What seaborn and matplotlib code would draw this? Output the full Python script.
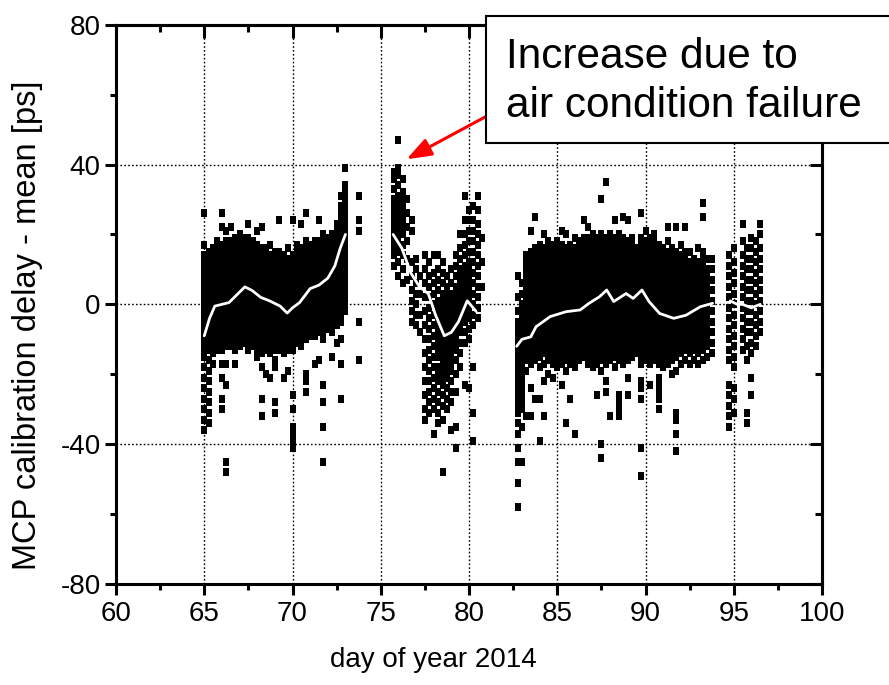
import matplotlib
matplotlib.use("Agg")
import matplotlib.pyplot as plt
import seaborn as sns
import pandas as pd
from matplotlib.patches import Rectangle

# ---------------- data ----------------
seg1_days = [65.0, 65.25, 65.5, 65.75, 66.0, 66.25, 66.5, 66.75, 67.0, 67.25, 67.5, 67.75,
             68.0, 68.25, 68.5, 68.75, 69.0, 69.25, 69.5, 69.75, 70.0, 70.25, 70.5, 70.75,
             71.0, 71.25, 71.5, 71.75, 72.0, 72.25, 72.5, 72.75, 73.0, 73.75]
seg1_vals = [
    [-36, -33, -30, -27, -24, -21, -18, -15, -13, -11, -9, -7, -6, -4, -2, 0, 2, 3, 5, 7, 9, 11, 12, 14, 17, 26],
    [-34, -31, -28, -25, -22, -19, -16, -13, -12, -10, -8, -6, -5, -3, -1, 1, 2, 4, 6, 8, 10, 11, 13, 15],
    [-17, -14, -12, -11, -9, -7, -5, -4, -2, 0, 1, 3, 5, 6, 8, 10, 12, 14, 16],
    [-13, -11, -10, -8, -6, -4, -3, -1, 1, 2, 4, 6, 7, 9, 11, 12, 14, 16, 18],
    [-30, -27, -21, -17, -13, -11, -9, -8, -6, -4, -3, -1, 1, 3, 4, 6, 8, 10, 11, 13, 15, 17, 22, 26],
    [-48, -45, -23, -17, -12, -10, -9, -7, -5, -4, -2, 0, 2, 3, 5, 7, 9, 10, 12, 14, 16, 18, 21],
    [-12, -10, -8, -7, -5, -3, -1, 0, 2, 4, 6, 7, 9, 11, 12, 14, 16, 18, 22],
    [-17, -13, -11, -9, -7, -6, -4, -2, -1, 1, 3, 5, 6, 8, 10, 12, 13, 15, 17, 19],
    [-12, -10, -9, -7, -5, -3, -2, 0, 2, 4, 5, 7, 9, 11, 12, 14, 16, 18, 20],
    [-11, -10, -8, -6, -4, -3, -1, 1, 3, 4, 6, 8, 10, 11, 13, 15, 17, 19],
    [-13, -11, -9, -7, -6, -4, -2, 0, 1, 3, 5, 7, 8, 10, 12, 14, 15, 17, 19, 23],
    [-12, -10, -8, -7, -5, -3, -1, 0, 2, 4, 6, 7, 9, 11, 13, 14, 16, 18],
    [-15, -13, -11, -10, -8, -6, -4, -3, -1, 1, 3, 4, 6, 8, 10, 11, 13, 15, 17, 21],
    [-32, -27, -18, -14, -12, -10, -9, -7, -5, -3, -2, 0, 2, 4, 5, 7, 9, 11, 12, 14, 16, 22],
    [-20, -13, -11, -9, -8, -6, -4, -2, -1, 1, 3, 5, 6, 8, 10, 12, 14, 16],
    [-21, -14, -12, -11, -9, -7, -5, -4, -2, 0, 2, 3, 5, 7, 9, 10, 12, 14, 17],
    [-31, -28, -18, -16, -13, -11, -10, -8, -6, -4, -3, -1, 1, 3, 4, 6, 8, 10, 11, 13, 15],
    [-13, -12, -10, -8, -7, -5, -3, -1, 0, 2, 4, 6, 7, 9, 11, 13, 15, 24],
    [-21, -14, -12, -11, -9, -7, -5, -4, -2, 0, 1, 3, 5, 7, 9, 10, 12, 14],
    [-19, -13, -12, -10, -8, -6, -5, -3, -1, 1, 2, 4, 6, 8, 9, 11, 13, 16],
    [-41, -39, -37, -35, -30, -26, -13, -11, -9, -8, -6, -4, -2, -1, 1, 3, 5, 6, 8, 10, 12, 14, 24],
    [-11, -10, -8, -6, -4, -3, -1, 1, 3, 4, 6, 8, 10, 11, 13, 15, 17],
    [-12, -10, -8, -7, -5, -3, -1, 0, 2, 4, 6, 7, 9, 11, 13, 14, 16, 23],
    [-25, -22, -20, -10, -9, -7, -5, -3, -2, 0, 2, 4, 5, 7, 9, 11, 12, 14, 16, 18, 26],
    [-9, -8, -6, -4, -2, -1, 1, 3, 5, 6, 8, 10, 12, 13, 15, 17],
    [-17, -9, -7, -5, -4, -2, 0, 2, 3, 5, 7, 9, 10, 12, 14, 16, 18],
    [-16, -8, -6, -5, -3, -1, 1, 2, 4, 6, 8, 9, 11, 13, 15, 16, 18, 24],
    [-45, -35, -28, -23, -10, -8, -7, -5, -3, -1, 0, 2, 4, 6, 7, 9, 11, 13, 14, 16, 18, 20],
    [-7, -6, -4, -2, 0, 1, 3, 5, 7, 8, 10, 12, 14, 15, 17, 19],
    [-15, -8, -6, -4, -3, -1, 1, 3, 4, 6, 8, 10, 11, 13, 15, 17, 18, 20],
    [-11, -6, -4, -2, 0, 1, 3, 5, 7, 8, 10, 12, 14, 15, 17, 19, 21, 23],
    [-27, -17, -10, -5, -3, -1, 1, 3, 5, 6, 8, 10, 12, 14, 16, 18, 20, 22, 24, 26, 28, 31],
    [-2, 0, 2, 4, 6, 8, 10, 12, 14, 16, 18, 20, 22, 24, 26, 28, 30, 32, 34, 39],
    [-16, -5, 21, 24, 31],
]

seg2_days = [75.75, 76.0, 76.25, 76.5, 76.75, 77.0, 77.25, 77.5, 77.75, 78.0, 78.25, 78.5,
             78.75, 79.0, 79.25, 79.5, 79.75, 80.0, 80.25, 80.5, 80.75]
seg2_vals = [
    [11, 14, 16, 18, 20, 22, 24, 26, 28, 30, 33, 36, 38],
    [8, 12, 15, 17, 19, 21, 23, 25, 27, 29, 31, 34, 37, 39, 47],
    [6, 10, 14, 17, 20, 22, 24, 26, 28, 30, 32, 36],
    [7, 13, 18, 22, 26, 30],
    [-5, -2, 1, 4, 8, 12, 21, 24],
    [-6, -3, 0, 3, 6, 10, 13],
    [-8, -3, 3, 8],
    [-33, -30, -26, -22, -18, -14, -10, -6, -2, 2, 6, 10, 14],
    [-31, -28, -25, -22, -19, -16, -13, -10, -7, -4, -1, 2, 5, 8, 12],
    [-37, -30, -27, -24, -21, -18, -15, -12, -9, -6, -3, 0, 3, 6, 9, 14],
    [-34, -31, -28, -25, -22, -20, -18, -15, -13, -11, -9, -7, -5, -3, -1, 1, 4, 7, 10, 14],
    [-48, -33, -29, -26, -23, -21, -19, -17, -15, -13, -11, -9, -7, -5, -3, -1, 1, 3, 6, 9, 12],
    [-30, -27, -24, -21, -19, -17, -15, -13, -11, -9, -7, -5, -3, -1, 1, 3, 5, 8],
    [-36, -28, -25, -22, -19, -17, -15, -13, -11, -9, -7, -5, -3, -1, 1, 3, 6, 10],
    [-41, -35, -25, -20, -16, -13, -11, -9, -7, -5, -3, -1, 1, 3, 5, 8, 11, 14],
    [-18, -14, -11, -8, -6, -4, -2, 0, 2, 4, 6, 8, 10, 13, 16, 20],
    [-23, -11, -8, -5, -3, -1, 1, 3, 5, 7, 9, 11, 14, 17, 20, 24, 31],
    [-24, -10, -7, -4, -2, 0, 2, 4, 6, 8, 10, 12, 15, 18, 21, 24, 27],
    [-39, -31, -18, -6, -3, 0, 3, 6, 9, 12, 15, 18, 21, 24, 28],
    [-4, -1, 2, 5, 8, 11, 14, 17, 20, 23, 27, 31],
    [5, 12, 19],
]

seg3_days = [82.75, 83.0, 83.25, 83.5, 83.75, 84.0, 84.25, 84.5, 84.75, 85.0, 85.25, 85.5,
             85.75, 86.0, 86.25, 86.5, 86.75, 87.0, 87.25, 87.5, 87.75, 88.0, 88.25, 88.5,
             88.75, 89.0, 89.25, 89.5]
seg3_vals = [
    [-58, -51, -45, -41, -37, -34, -31, -29, -27, -25, -23, -21, -19, -17, -15, -13, -11, -9, -7, -5, -2, 2, 8],
    [-45, -35, -30, -28, -26, -24, -22, -20, -18, -16, -14, -12, -10, -8, -6, -4, -2, 0, 3, 6],
    [-32, -19, -16, -14, -12, -10, -8, -6, -4, -2, 0, 2, 4, 6, 8, 10, 12, 14],
    [-32, -24, -17, -15, -13, -11, -9, -7, -5, -3, -1, 1, 3, 5, 7, 9, 11, 13, 15, 21],
    [-27, -16, -14, -12, -10, -8, -6, -4, -2, 0, 2, 4, 6, 8, 10, 12, 14, 16, 25],
    [-39, -27, -18, -15, -13, -11, -9, -7, -5, -3, -1, 1, 3, 5, 7, 9, 11, 13, 15, 17],
    [-32, -22, -17, -14, -12, -10, -8, -6, -4, -2, 0, 2, 4, 6, 8, 10, 12, 14, 16, 20],
    [-20, -16, -14, -12, -10, -8, -6, -4, -2, 0, 2, 4, 6, 8, 10, 12, 14, 16, 18],
    [-21, -17, -15, -13, -11, -9, -7, -5, -3, -1, 1, 3, 5, 7, 9, 11, 13, 15, 17],
    [-18, -16, -14, -12, -10, -8, -6, -4, -2, 0, 2, 4, 6, 8, 10, 12, 14, 16, 18],
    [-23, -17, -15, -13, -11, -9, -7, -5, -3, -1, 1, 3, 5, 7, 9, 11, 13, 15, 17, 21],
    [-34, -19, -16, -14, -12, -10, -8, -6, -4, -2, 0, 2, 4, 6, 8, 10, 12, 14, 16, 20],
    [-27, -17, -15, -13, -11, -9, -7, -5, -3, -1, 1, 3, 5, 7, 9, 11, 13, 15, 17],
    [-37, -18, -16, -14, -12, -10, -8, -6, -4, -2, 0, 2, 4, 6, 8, 10, 12, 14, 16, 19],
    [-16, -14, -12, -10, -8, -6, -4, -2, 0, 2, 4, 6, 8, 10, 12, 14, 16, 18],
    [-15, -13, -11, -9, -7, -5, -3, -1, 1, 3, 5, 7, 9, 11, 13, 15, 17, 19, 24],
    [-17, -15, -13, -11, -9, -7, -5, -3, -1, 1, 3, 5, 7, 9, 11, 13, 15, 17, 19, 22],
    [-18, -16, -14, -12, -10, -8, -6, -4, -2, 0, 2, 4, 6, 8, 10, 12, 14, 16, 18, 20],
    [-26, -17, -15, -13, -11, -9, -7, -5, -3, -1, 1, 3, 5, 7, 9, 11, 13, 15, 17, 19],
    [-44, -40, -19, -16, -14, -12, -10, -8, -6, -4, -2, 0, 2, 4, 6, 8, 10, 12, 14, 16, 18, 20, 30],
    [-25, -22, -17, -15, -13, -11, -9, -7, -5, -3, -1, 1, 3, 5, 7, 9, 11, 13, 15, 17, 19, 35],
    [-32, -16, -14, -12, -10, -8, -6, -4, -2, 0, 2, 4, 6, 8, 10, 12, 14, 16, 18, 20],
    [-18, -15, -13, -11, -9, -7, -5, -3, -1, 1, 3, 5, 7, 9, 11, 13, 15, 17, 19, 24],
    [-32, -30, -28, -26, -16, -14, -12, -10, -8, -6, -4, -2, 0, 2, 4, 6, 8, 10, 12, 14, 16, 18, 20],
    [-17, -15, -13, -11, -9, -7, -5, -3, -1, 1, 3, 5, 7, 9, 11, 13, 15, 17, 19, 25],
    [-26, -21, -16, -14, -12, -10, -8, -6, -4, -2, 0, 2, 4, 6, 8, 10, 12, 14, 16, 18, 24],
    [-15, -13, -11, -9, -7, -5, -3, -1, 1, 3, 5, 7, 9, 11, 13, 15, 17, 19],
    [-14, -12, -10, -8, -6, -4, -2, 0, 2, 4, 6, 8, 10, 12, 14, 16],
]

seg4_days = [89.75, 90.0, 90.25, 90.5, 90.75, 91.0, 91.25, 91.5, 91.75, 92.0, 92.25, 92.5,
             92.75, 93.0, 93.25, 93.5, 93.75]
seg4_vals = [
    [-49, -41, -27, -24, -22, -17, -15, -13, -11, -9, -7, -5, -3, -1, 1, 3, 5, 7, 9, 11, 13, 15, 17, 19, 26],
    [-16, -14, -12, -10, -8, -6, -4, -2, 0, 2, 4, 6, 8, 10, 12, 14, 16, 18, 21],
    [-23, -17, -15, -13, -11, -9, -7, -5, -3, -1, 1, 3, 5, 7, 9, 11, 13, 15, 17, 19],
    [-16, -14, -12, -10, -8, -6, -4, -2, 0, 2, 4, 6, 8, 10, 12, 14, 16, 18, 20],
    [-30, -27, -25, -23, -21, -17, -15, -13, -11, -9, -7, -5, -3, -1, 1, 3, 5, 7, 9, 11, 13, 15, 17],
    [-18, -16, -14, -12, -10, -8, -6, -4, -2, 0, 2, 4, 6, 8, 10, 12, 14, 16],
    [-17, -15, -13, -11, -9, -7, -5, -3, -1, 1, 3, 5, 7, 9, 11, 13, 15, 18, 22],
    [-20, -16, -14, -12, -10, -8, -6, -4, -2, 0, 2, 4, 6, 8, 10, 12, 14, 16],
    [-42, -37, -33, -31, -19, -15, -13, -11, -9, -7, -5, -3, -1, 1, 3, 5, 7, 9, 11, 13, 15, 22],
    [-17, -14, -12, -10, -8, -6, -4, -2, 0, 2, 4, 6, 8, 10, 12, 14, 17],
    [-16, -13, -11, -9, -7, -5, -3, -1, 1, 3, 5, 7, 9, 11, 13, 15, 22],
    [-17, -14, -12, -10, -8, -6, -4, -2, 0, 2, 4, 6, 8, 10, 12, 15],
    [-16, -13, -11, -9, -7, -5, -3, -1, 1, 3, 5, 7, 9, 11, 13],
    [-17, -14, -12, -10, -8, -6, -4, -2, 0, 2, 4, 6, 8, 10, 12, 16],
    [-16, -13, -11, -9, -7, -5, -3, -1, 1, 3, 5, 7, 9, 11, 13, 15, 25, 29],
    [-15, -12, -10, -8, -6, -4, -2, 0, 2, 4, 6, 8, 10, 13],
    [-14, -11, -8, -5, -2, 1, 4, 7, 10, 13],
]

seg5_days = [94.75, 95.0, 95.5, 95.75, 96.0, 96.25, 96.5]
seg5_vals = [
    [-35, -32, -29, -26, -23, -16, -13, -10, -7, -4, -1, 2, 5, 8, 11, 14],
    [-31, -27, -24, -18, -15, -12, -9, -6, -3, 0, 3, 6, 9, 12, 16],
    [-13, -10, -7, -4, -1, 2, 5, 8, 11, 14, 18, 23],
    [-34, -31, -16, -12, -8, -5, -2, 1, 4, 7, 10, 13, 16],
    [-26, -21, -14, -11, -8, -5, -2, 1, 4, 7, 10, 13, 16, 19],
    [-12, -9, -6, -3, 0, 3, 6, 9, 12, 15, 18],
    [-8, -5, -2, 1, 4, 7, 10, 13, 16, 20, 23],
]

# running mean (white line)
line1_days = [65.0, 65.3, 65.6, 66.0, 66.4, 66.9, 67.3, 67.7, 68.2, 68.7, 69.3, 69.7, 70.0, 70.4,
              71.0, 71.5, 72.0, 72.4, 72.7, 73.0]
line1_mean = [-9, -4, -0.5, 0, 0.5, 3, 5, 4, 2, 1, -0.5, -2.5, -1, 0.5, 4.5, 5.5, 7.5, 11, 16, 20]
line2_days = [75.7, 76.2, 76.7, 77.2, 77.7, 78.1, 78.6, 79.0, 79.4, 79.9, 80.4]
line2_mean = [20, 16, 9, 5, 3, -3, -9, -8, -5, 1, -2]
line3_days = [82.7, 83.0, 83.5, 83.8, 84.6, 85.5, 86.3, 86.8, 87.4, 87.8, 88.2, 88.9, 89.3, 89.8,
              90.2, 90.8, 91.6, 92.3, 93.1, 93.8]
line3_mean = [-12, -10, -9.3, -6.4, -3.5, -2.1, -1.6, 0.3, 2.2, 4.1, 0.8, 3.1, 1.7, 4.1,
              0.8, -2.6, -4, -3.1, -0.7, 0.3]
line4_days = [94.8, 95.2, 95.5, 96.0, 96.5]
line4_mean = [1, 0, 0, -1, 0]

x_major = [60, 65, 70, 75, 80, 85, 90, 95, 100]
x_minor = [62.5, 67.5, 72.5, 77.5, 82.5, 87.5, 92.5, 97.5]
y_major = [-80, -40, 0, 40, 80]
y_minor = [-60, -20, 20, 60]

xlabel = "day of year 2014"
ylabel = "MCP calibration delay - mean [ps]"
note_lines = ["Increase due to", "air condition failure"]

# ---------------- tables ----------------
rows = []
for days, vals in [(seg1_days, seg1_vals), (seg2_days, seg2_vals), (seg3_days, seg3_vals),
                   (seg4_days, seg4_vals), (seg5_days, seg5_vals)]:
    assert len(days) == len(vals)
    for d, ys in zip(days, vals):
        for y in ys:
            rows.append((d, y))
df = pd.DataFrame(rows, columns=["day", "delay"])

lrows = []
for k, (d, m) in enumerate([(line1_days, line1_mean), (line2_days, line2_mean),
                            (line3_days, line3_mean), (line4_days, line4_mean)]):
    for a, b in zip(d, m):
        lrows.append((k, a, b))
ldf = pd.DataFrame(lrows, columns=["seg", "day", "mean"])

# ---------------- style ----------------
sns.set_style("white")
plt.rcParams["font.family"] = ["Liberation Sans", "DejaVu Sans"]
plt.rcParams["axes.unicode_minus"] = False
plt.rcParams["text.color"] = "black"
plt.rcParams["axes.labelcolor"] = "black"
plt.rcParams["xtick.color"] = "black"
plt.rcParams["ytick.color"] = "black"
plt.rcParams["xtick.labelcolor"] = "black"
plt.rcParams["ytick.labelcolor"] = "black"

W, H = 889, 685
fig = plt.figure(figsize=(W / 100, H / 100), dpi=100)
ax = fig.add_axes([116 / W, (H - 584) / H, 706 / W, 559.3 / H])

# small upright block marker (about 5 x 7 px)
block = [(-0.36, -0.5), (0.36, -0.5), (0.36, 0.5), (-0.36, 0.5), (-0.36, -0.5)]
sns.scatterplot(data=df, x="day", y="delay", marker=block, s=26, color="black",
                linewidth=0, ax=ax, legend=False, zorder=2)
sns.lineplot(data=ldf, x="day", y="mean", units="seg", estimator=None, sort=False,
             color="white", lw=2.0, ax=ax, legend=False, zorder=3)

ax.set_xlim(60, 100)
ax.set_ylim(-80, 80)
ax.set_xticks(x_major)
ax.set_xticks(x_minor, minor=True)
ax.set_yticks(y_major)
ax.set_yticks(y_minor, minor=True)
ax.set_axisbelow(True)
ax.grid(True, which="major", color="black", linestyle=(0, (1.2, 1.6)), linewidth=1.0)

for sp in ax.spines.values():
    sp.set_visible(True)
    sp.set_linewidth(2.2)
    sp.set_color("black")

ax.tick_params(axis="both", which="major", direction="out", length=8, width=2.2,
               labelsize=20, bottom=True, left=True, top=False, right=False,
               color="black", labelcolor="black")
ax.tick_params(axis="both", which="minor", direction="out", length=4, width=2.2,
               bottom=True, left=True, top=False, right=False, color="black")
ax.tick_params(axis="x", which="major", pad=4)
ax.tick_params(axis="y", which="major", pad=3)

ax.set_xlabel(xlabel, fontsize=20, color="black")
ax.set_ylabel(ylabel, fontsize=23.5, color="black")
ax.xaxis.set_label_coords(0.45, -0.112)
ax.yaxis.set_label_coords(-0.103, 0.463)

# mirrored inward ticks on top/right
secx = ax.secondary_xaxis("top")
secx.set_ticks(x_major)
secx.set_ticks(x_minor, minor=True)
secx.tick_params(axis="x", which="major", direction="in", length=9, width=2.2,
                 labeltop=False, labelbottom=False, top=True, color="black")
secx.tick_params(axis="x", which="minor", direction="in", length=5, width=2.2,
                 top=True, color="black")
secx.spines["top"].set_linewidth(2.2)
secy = ax.secondary_yaxis("right")
secy.set_ticks(y_major)
secy.set_ticks(y_minor, minor=True)
secy.tick_params(axis="y", which="major", direction="in", length=9, width=2.2,
                 labelright=False, labelleft=False, right=True, color="black")
secy.tick_params(axis="y", which="minor", direction="in", length=5, width=2.2,
                 right=True, color="black")
secy.spines["right"].set_linewidth(2.2)

# annotation arrow
ax.annotate("", xy=(76.46, 41.5), xytext=(80.95, 53.7), annotation_clip=False,
            arrowprops=dict(arrowstyle="-|>,head_length=0.6,head_width=0.22",
                            mutation_scale=25, color="#ff0000", lw=2.2,
                            shrinkA=0, shrinkB=0), zorder=5)

# annotation box + text
fig.add_artist(Rectangle((486 / W, 1 - 143 / H), 430 / W, 127 / H, transform=fig.transFigure,
                         facecolor="white", edgecolor="black", linewidth=1.5, zorder=10))
fig.text(506 / W, 1 - 68.3 / H, note_lines[0], fontsize=30.5, va="baseline", ha="left",
         color="black", zorder=11)
fig.text(506 / W, 1 - 116.7 / H, note_lines[1], fontsize=30.5, va="baseline", ha="left",
         color="black", zorder=11)

fig.savefig("out.png", dpi=100, facecolor="white")
